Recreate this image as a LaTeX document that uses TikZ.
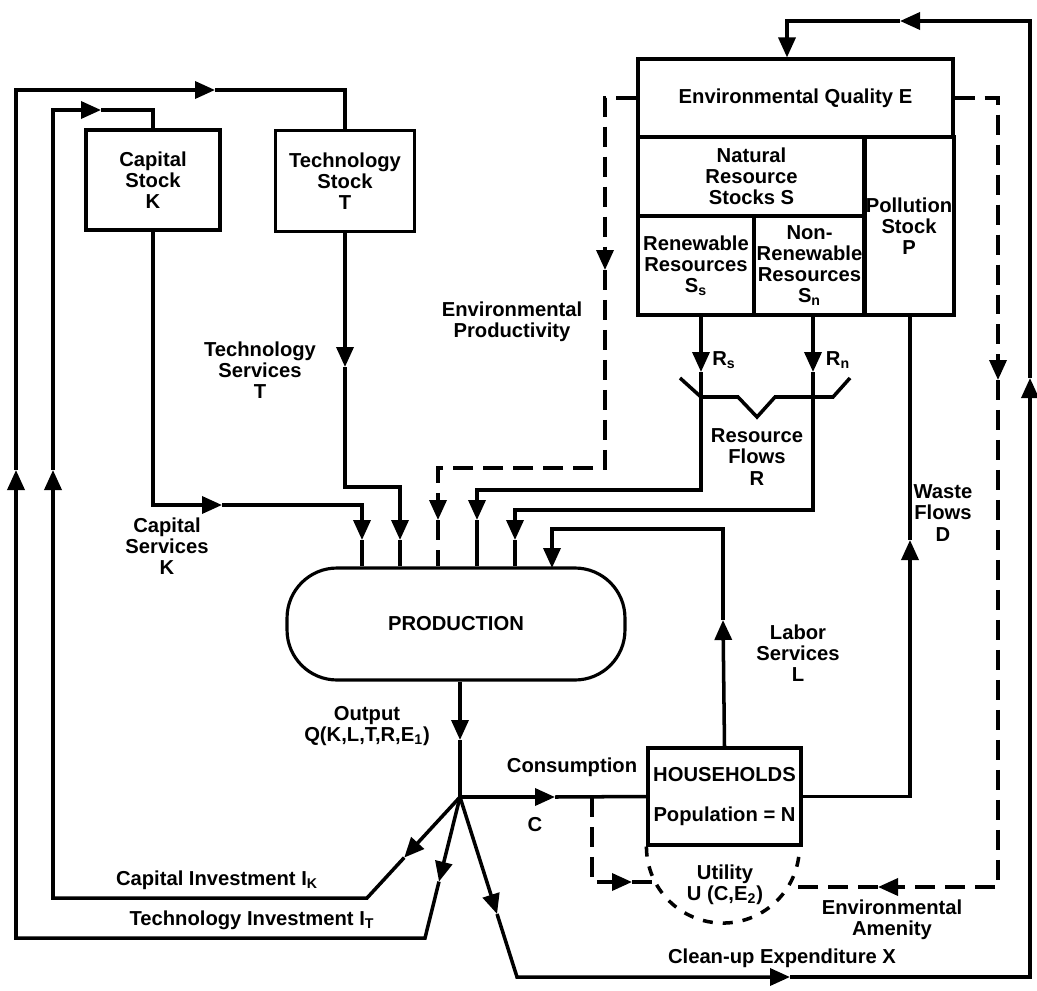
\documentclass[tikz,border=0pt]{standalone}
\usepackage{fontspec}
\setmainfont{Liberation Sans}
\usetikzlibrary{arrows.meta,calc}

\begin{document}
\begin{tikzpicture}[x=0.02cm,y=-0.02cm,
  flowline/.style={line width=2pt},
  envline/.style={line width=2pt,dash pattern=on 0.4cm off 0.2cm},
  arr/.style={-{Triangle[length=4mm,width=3.4mm]}},
  stockbox/.style={draw,line width=1.8pt,align=center,inner sep=1pt,font=\fontsize{11.5}{12}\selectfont\bfseries},
  lbl/.style={align=center,inner sep=1pt,font=\fontsize{11.5}{12}\selectfont\bfseries}]
\useasboundingbox (0,0) rectangle (1037,990);

\node[stockbox,minimum width=2.68cm,minimum height=2cm] (capK) at (153,180) {Capital\\Stock\\K};
\node[stockbox,minimum width=2.78cm,minimum height=2.02cm] (techT) at (345,181) {Technology\\Stock\\T};
\node[stockbox,minimum width=6.3cm,minimum height=1.56cm] (envQ) at (795.5,98) {Environmental Quality E};
\node[stockbox,minimum width=4.54cm,minimum height=1.58cm] (natS) at (751.5,176.5) {Natural\\Resource\\Stocks S};
\node[stockbox,minimum width=2.32cm,minimum height=1.98cm] (renS) at (696,265.5) {Renewable\\Resources\\S\textsubscript{s}};
\node[stockbox,minimum width=2.22cm,minimum height=1.98cm] (nonS) at (809.5,265.5) {Non-\\Renewable\\Resources\\S\textsubscript{n}};
\node[stockbox,minimum width=1.76cm,minimum height=3.56cm] (polP) at (909,226) {Pollution\\Stock\\P};
\node[stockbox,rounded corners=1cm,minimum width=6.76cm,minimum height=2.24cm] (prod) at (456,624) {PRODUCTION};
\node[stockbox,minimum width=3.06cm,minimum height=1.94cm] (hh) at (724.5,796.5) {HOUSEHOLDS\\[11pt]Population = N};

\node[lbl] (tsT) at (260,370) {Technology\\Services\\T};
\node[lbl] (csK) at (167,546) {Capital\\Services\\K};
\node[lbl] (envP) at (512,322) {Environmental\\Productivity};
\node[lbl] (rsL) at (724,360) {R\textsubscript{s}};
\node[lbl] (rnL) at (838,360) {R\textsubscript{n}};
\node[lbl] (resR) at (757,457) {Resource\\Flows\\R};
\node[lbl] (wasD) at (943,513) {Waste\\Flows\\D};
\node[lbl] (labL) at (798,653) {Labor\\Services\\L};
\node[lbl] (outQ) at (367,726) {Output\\Q(K,L,T,R,E\textsubscript{1})};
\node[lbl] (conC) at (572,767) {Consumption};
\node[lbl] (cC) at (535,825) {C};
\node[lbl] (ciK) at (217,880) {Capital Investment I\textsubscript{K}};
\node[lbl] (tiT) at (252,920) {Technology Investment I\textsubscript{T}};
\node[lbl] (utU) at (725,885) {Utility\\U (C,E\textsubscript{2})};
\node[lbl] (amE) at (892,920) {Environmental\\Amenity};
\node[lbl] (cuX) at (782,958) {Clean-up Expenditure X};

\coordinate (J) at (460,797);
\coordinate (ti1) at (425,938);
\coordinate (ti2) at (16,938);
\coordinate (tia1) at ($(J)!0.6!(ti1)$);
\coordinate (tia2) at (16,470);
\coordinate (tia3) at (215,90);
\coordinate (ci1) at (367,898);
\coordinate (ci2) at (53,898);
\coordinate (cia1) at ($(J)!0.6!(ci1)$);
\coordinate (cia2) at (53,470);
\coordinate (cia3) at (101,110);
\coordinate (cu1) at (517,977);
\coordinate (cu2) at (1030,977);
\coordinate (cu3) at (787,21);
\coordinate (cua1) at ($(J)!0.65!(cu1)$);
\coordinate (cua2) at (790,977);
\coordinate (cua3) at (1030,378);
\coordinate (cua4) at (900,21);
\coordinate (oa) at (460,740);
\coordinate (coa) at (555,797);
\coordinate (ka1) at (222,505);
\coordinate (ka2) at (362,540);
\coordinate (sa1) at (345,367);
\coordinate (sa2) at (400,540);
\coordinate (ea1) at (605,270);
\coordinate (ea2) at (438,520);
\coordinate (rs0) at (701,315);
\coordinate (ra1) at (701,372);
\coordinate (ra2) at (477,520);
\coordinate (rn0) at (813,315);
\coordinate (na1) at (813,372);
\coordinate (na2) at (515,540);
\coordinate (la1) at (723,620);
\coordinate (la2) at (552,568);
\coordinate (wa1) at (910,540);
\coordinate (aa1) at (998,380);
\coordinate (aa2) at (878,887);
\coordinate (ut2) at (789,887);
\coordinate (ud0) at (592,797);
\coordinate (ud1) at (632,882);
\coordinate (ut1) at (657,882);

\draw[flowline,arr] (J) -- (tia1);
\draw[flowline,arr] (tia1) -- (ti1) -- (ti2) -- (tia2);
\draw[flowline,arr] (tia2) |- (tia3);
\draw[flowline] (tia3) -| (techT.north);
\draw[flowline,arr] (J) -- (cia1);
\draw[flowline,arr] (cia1) -- (ci1) -- (ci2) -- (cia2);
\draw[flowline,arr] (cia2) |- (cia3);
\draw[flowline] (cia3) -| (capK.north);
\draw[flowline,arr] (J) -- (cua1);
\draw[flowline,arr] (cua1) -- (cu1) -- (cua2);
\draw[flowline,arr] (cua2) -- (cu2) -- (cua3);
\draw[flowline,arr] (cua3) |- (cua4);
\draw[flowline,arr] (cua4) -- (cu3) -- (cu3 |- envQ.north);
\draw[flowline,arr] (J |- prod.south) -- (oa);
\draw[flowline] (oa) -- (J);
\draw[flowline,arr] (J) -- (coa);
\draw[flowline] (coa) -- (hh.west);

\draw[flowline,arr] (capK.south) |- (ka1);
\draw[flowline,arr] (ka1) -| (ka2);
\draw[flowline] (ka2) -- (ka2 |- prod.north);
\draw[flowline,arr] (techT.south) -- (sa1);
\draw[flowline,arr] (sa1) |- (400,487) -- (sa2);
\draw[flowline] (sa2) -- (sa2 |- prod.north);
\draw[envline,arr] (envQ.west) -| (ea1);
\draw[envline,arr] (ea1) |- (438,468) -- (ea2);
\draw[envline] (ea2) -- (ea2 |- prod.north);
\draw[flowline,arr] (rs0) -- (ra1);
\draw[flowline,arr] (ra1) |- (477,490) -- (ra2);
\draw[flowline] (ra2) -- (ra2 |- prod.north);
\draw[flowline,arr] (rn0) -- (na1);
\draw[flowline,arr] (na1) |- (515,510) -- (na2);
\draw[flowline] (na2) -- (na2 |- prod.north);
\draw[flowline,arr] (hh.north) -- (la1);
\draw[flowline,arr] (la1) -- (723,529) -| (la2);
\draw[flowline,arr] (hh.east) -| (wa1);
\draw[flowline] (wa1) -- (wa1 |- polP.south);

\draw[envline,arr] (envQ.east) -| (aa1);
\draw[envline,arr] (aa1) |- (aa2);
\draw[envline] (aa2) -- (ut2);
\draw[envline,arr] (ud0) |- (ud1);
\draw[envline] (ud1) -- (ut1);
\draw[line width=2pt,dash pattern=on 0.2cm off 0.2cm] (hh.south west) arc[start angle=180,end angle=360,radius=1.53cm];

\draw[flowline] (680,378) -- (701,397) -- (738,397) -- (757,417) -- (775,397) -- (833,397) -- (850,378);
\end{tikzpicture}
\end{document}
